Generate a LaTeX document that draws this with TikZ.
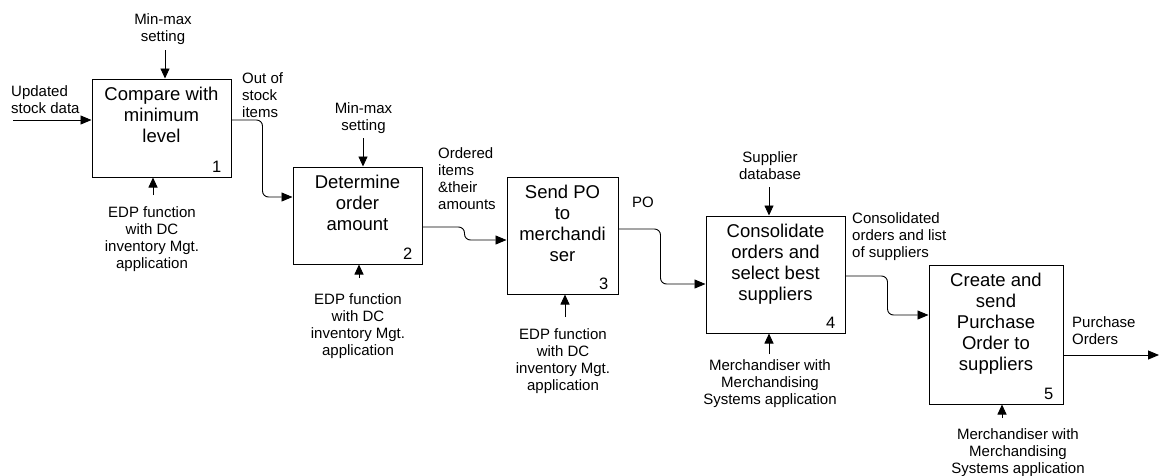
\documentclass[tikz,border=0pt]{standalone}
\usepackage{fontspec}
\setmainfont{Liberation Sans}
\usetikzlibrary{arrows.meta,positioning}
\tikzset{
	act/.style={draw, line width=1pt, inner sep=0pt},
	acttext/.style={align=center, inner sep=0pt, font=\fontsize{18.5}{21}\selectfont},
	actnum/.style={inner sep=0pt, anchor=base east, font=\fontsize{16.5}{18}\selectfont},
	lbl/.style={align=center, inner sep=0pt, anchor=north, font=\fontsize{15}{17}\selectfont},
	lblleft/.style={lbl, align=left, anchor=north west},
	flow/.style={line width=0.9pt, rounded corners=6pt, -{Triangle[length=11pt,width=9pt]}},
	ctrl/.style={line width=0.9pt, -{Triangle[length=10pt,width=9pt]}}
}

\begin{document}
\begin{tikzpicture}[x=1pt, y=-1pt]
			\useasboundingbox (0,0) rectangle (1159,475);
			%%%%% ACTIVITIES %%%%%
			
			\node[act, minimum width=139pt, minimum height=98pt] (box1) at (161.5,128) {};
			\node[acttext, below=8.5pt of box1.north] (t1) {Compare with\\minimum\\level};
			\node[actnum] (n1) at ([xshift=-10pt,yshift=5pt]box1.south east) {1};
			
			\node[act, minimum width=129pt, minimum height=97pt] (box2) at (357.5,215.5) {};
			\node[acttext, below=8.5pt of box2.north] (t2) {Determine\\order\\amount};
			\node[actnum] (n2) at ([xshift=-10pt,yshift=5pt]box2.south east) {2};
			
			\node[act, minimum width=111pt, minimum height=117pt] (box3) at (562.5,235.5) {};
			\node[acttext, below=8pt of box3.north] (t3) {Send PO\\to\\merchandi\\ser};
			\node[actnum] (n3) at ([xshift=-10pt,yshift=5pt]box3.south east) {3};
			
			\node[act, minimum width=139pt, minimum height=117pt] (box4) at (775.5,274.5) {};
			\node[acttext, below=8pt of box4.north] (t4) {Consolidate\\orders and\\select best\\suppliers};
			\node[actnum] (n4) at ([xshift=-10pt,yshift=5pt]box4.south east) {4};
			
			\node[act, minimum width=134pt, minimum height=139pt] (box5) at (996,334.5) {};
			\node[acttext, below=8.5pt of box5.north] (t5) {Create and\\send\\Purchase\\Order to\\suppliers};
			\node[actnum] (n5) at ([xshift=-10pt,yshift=5pt]box5.south east) {5};
			
			%%%%% LABELS %%%%%
			
			\node[lblleft] (stock) at (11,85) {Updated\\stock data};
			\node[lbl] (minmax1) at (163,13) {Min-max\\setting};
			\node[lbl] (edp1) at (152,206) {EDP function\\with DC\\inventory Mgt.\\application};
			\node[lblleft] (outstock) at (242,72) {Out of\\stock\\items};
			
			\node[lbl] (minmax2) at (363.5,102) {Min-max\\setting};
			\node[lbl] (edp2) at (358,293) {EDP function\\with DC\\inventory Mgt.\\application};
			\node[lblleft] (ordered) at (438,147) {Ordered\\items\\\&their\\amounts};
			
			\node[lbl] (edp3) at (563,328) {EDP function\\with DC\\inventory Mgt.\\application};
			\node[lblleft] (po) at (632,197) {PO};
			
			\node[lbl] (supplier) at (770,151) {Supplier\\database};
			\node[lbl] (merch4) at (770,359) {Merchandiser with\\Merchandising\\Systems application};
			\node[lblleft] (consol) at (852,212) {Consolidated\\orders and list\\of suppliers};
			
			\node[lbl] (merch5) at (1018,428) {Merchandiser with\\Merchandising\\Systems application};
			\node[lblleft] (purchase) at (1072,316) {Purchase\\Orders};
			
			%%%%% CONTROLS AND MECHANISMS %%%%%
			
			\coordinate (c1) at (165,50);
			\coordinate (c2) at (363,138);
			\coordinate (c4) at (769,187);
			\draw[ctrl] (c1) -- (c1 |- box1.north);
			\draw[ctrl] (c2) -- (c2 |- box2.north);
			\draw[ctrl] (c4) -- (c4 |- box4.north);
			
			\coordinate (m1) at (153,195);
			\coordinate (m2) at (359,278);
			\coordinate (m3) at (565,317);
			\coordinate (m4) at (769,354);
			\coordinate (m5) at (1002,418);
			\draw[ctrl] (m1) -- (m1 |- box1.south);
			\draw[ctrl] (m2) -- (m2 |- box2.south);
			\draw[ctrl] (m3) -- (m3 |- box3.south);
			\draw[ctrl] (m4) -- (m4 |- box4.south);
			\draw[ctrl] (m5) -- (m5 |- box5.south);
			
			%%%%% FLOWS %%%%%
			
			\coordinate (src) at (13,120);
			\coordinate (sink) at (1159,355);
			\draw[flow] (src) -- ([yshift=8pt]box1.west);
			\draw[flow] ([yshift=8pt]box1.east) -- ++(31,0) |- ([yshift=18.5pt]box2.west);
			\draw[flow] ([yshift=-11.5pt]box2.east) -- ++(42,0) |- ([yshift=-4.5pt]box3.west);
			\draw[flow] ([yshift=6.5pt]box3.east) -- ++(42,0) |- ([yshift=-9.5pt]box4.west);
			\draw[flow] ([yshift=-1.5pt]box4.east) -- ++(42,0) |- ([yshift=19.5pt]box5.west);
			\draw[flow] ([yshift=-20.5pt]box5.east) -- (sink);
			
		\end{tikzpicture}
\end{document}
